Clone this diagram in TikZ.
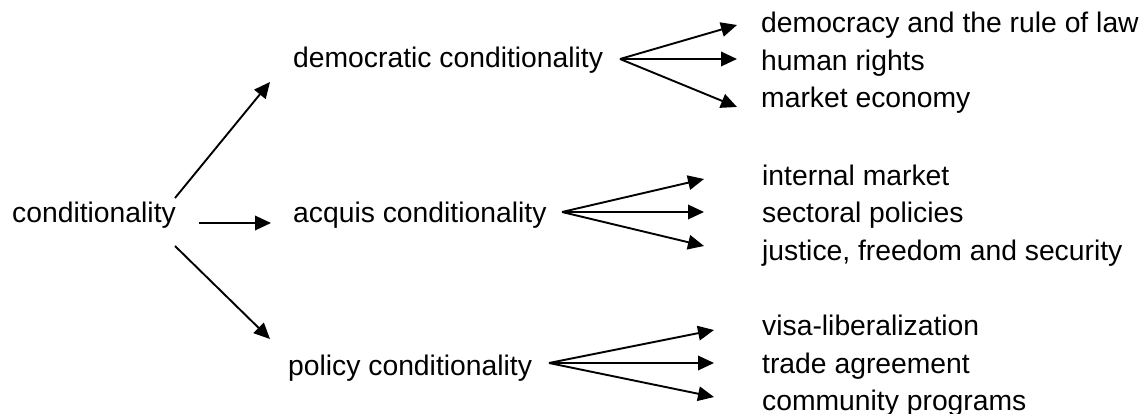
\documentclass[tikz,border=0pt]{standalone}
\usepackage{fontspec}
\setmainfont{Liberation Sans}
\usetikzlibrary{arrows.meta}
\begin{document}
\begin{tikzpicture}[x=1pt,y=-1pt,
  lbl/.style={anchor=base west,inner sep=0pt,font=\fontsize{28.3}{34}\selectfont},
  arr/.style={-{Triangle[length=16pt,width=14.5pt]},line width=1.9pt}]
\useasboundingbox (0,0) rectangle (1146,414);
% texts
\node[lbl] (cond) at (12,223) {conditionality};
\node[lbl] (dem) at (293,68) {democratic conditionality};
\node[lbl] (acq) at (293,223) {acquis conditionality};
\node[lbl] (pol) at (288,375) {policy conditionality};
\node[lbl] (d1) at (761,33) {democracy and the rule of law};
\node[lbl] (d2) at (761,71) {human rights};
\node[lbl] (d3) at (761,108) {market economy};
\node[lbl] (a1) at (762,186) {internal market};
\node[lbl] (a2) at (762,223) {sectoral policies};
\node[lbl] (a3) at (762,260) {justice, freedom and security};
\node[lbl] (p1) at (762,335) {visa-liberalization};
\node[lbl] (p2) at (762,373) {trade agreement};
\node[lbl] (p3) at (762,410) {community programs};
% connector end points
\coordinate (cs1) at (175,198);
\coordinate (cs2) at (199,223);
\coordinate (cs3) at (175,246);
\coordinate (ce1) at (270,82);
\coordinate (ce2) at (271,223);
\coordinate (ce3) at (270,339);
\coordinate (dO) at (620,59);
\coordinate (dE1) at (737,25);
\coordinate (dE2) at (737,59);
\coordinate (dE3) at (737,107);
\coordinate (aO) at (562,212);
\coordinate (aE1) at (704,179);
\coordinate (aE2) at (704,212);
\coordinate (aE3) at (704,246);
\coordinate (pO) at (549,363);
\coordinate (pE1) at (714,330);
\coordinate (pE2) at (714,363);
\coordinate (pE3) at (714,397);
% connectors
\draw[arr] (cs1) -- (ce1);
\draw[arr] (cs2) -- (ce2);
\draw[arr] (cs3) -- (ce3);
\draw[arr] (dO) -- (dE1);
\draw[arr] (dO) -- (dE2);
\draw[arr] (dO) -- (dE3);
\draw[arr] (aO) -- (aE1);
\draw[arr] (aO) -- (aE2);
\draw[arr] (aO) -- (aE3);
\draw[arr] (pO) -- (pE1);
\draw[arr] (pO) -- (pE2);
\draw[arr] (pO) -- (pE3);
\end{tikzpicture}
\end{document}
